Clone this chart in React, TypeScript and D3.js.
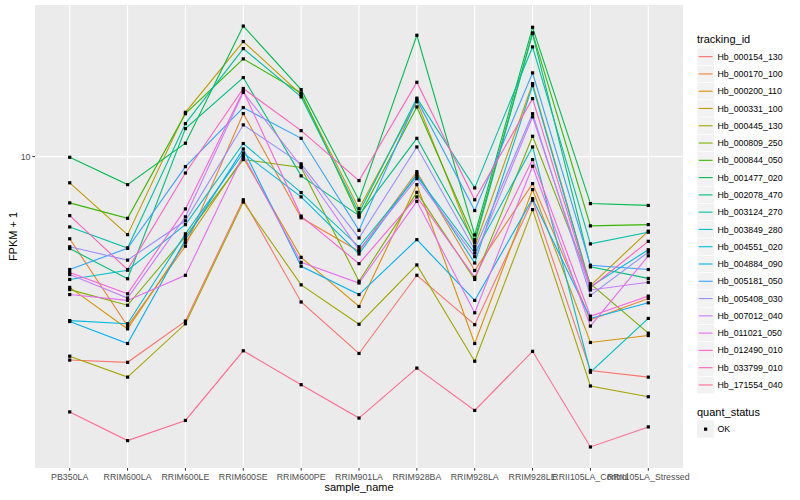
import React, { useRef, useEffect } from "react";
import * as d3 from "d3";

// x categories
const samples = [
  "PB350LA", "RRIM600LA", "RRIM600LE", "RRIM600SE", "RRIM600PE", "RRIM901LA",
  "RRIM928BA", "RRIM928LA", "RRIM928LE", "RRII105LA_Control", "RRII105LA_Stressed",
];

// FPKM + 1 per tracking id, one value per sample (same order as samples)
const hb_000154_130 = [3.10, 3.06, 3.88, 7.80, 4.33, 3.22, 5.05, 3.80, 7.78, 2.92, 2.81];
const hb_000170_100 = [6.23, 3.77, 5.97, 12.81, 7.03, 5.80, 9.17, 5.19, 8.56, 3.91, 4.42];
const hb_000200_110 = [4.71, 3.71, 6.09, 9.94, 5.60, 4.22, 8.51, 3.41, 8.27, 3.43, 3.57];
const hb_000331_100 = [8.60, 6.38, 12.90, 19.39, 14.29, 7.41, 13.72, 5.96, 15.22, 4.76, 6.51];
const hb_000445_130 = [3.17, 2.81, 3.82, 7.70, 4.78, 3.81, 5.36, 3.08, 7.37, 2.67, 2.51];
const hb_000809_250 = [4.65, 4.25, 6.31, 9.83, 9.39, 4.88, 8.14, 4.93, 11.24, 4.81, 3.62];
const hb_000844_050 = [7.66, 7.01, 12.8, 17.55, 14.43, 7.06, 13.31, 6.20, 20.38, 6.71, 6.76];
const hb_001477_020 = [9.96, 8.51, 10.8, 21.2, 14.7, 7.78, 20.1, 6.37, 21.05, 7.63, 7.55];
const hb_002078_470 = [5.89, 4.95, 11.75, 15.76, 8.95, 7.12, 11.11, 6.09, 20.30, 5.30, 4.96];
const hb_003124_270 = [6.67, 5.91, 12.09, 18.62, 14.10, 7.24, 14.0, 8.35, 18.80, 6.05, 6.47];
const hb_003849_280 = [4.93, 5.2, 6.76, 10.78, 8.13, 5.95, 8.93, 5.74, 10.57, 2.89, 3.94];
const hb_004551_020 = [3.89, 3.82, 6.41, 10.21, 7.93, 5.71, 9.05, 5.42, 15.05, 4.73, 5.85];
const hb_004884_090 = [3.87, 3.41, 6.20, 10.45, 5.32, 4.52, 6.20, 4.37, 7.85, 3.94, 4.31];
const hb_005181_050 = [5.22, 5.9, 9.44, 13.26, 11.11, 6.54, 13.88, 7.33, 16.19, 5.35, 5.22];
const hb_005408_030 = [5.95, 5.51, 6.91, 12.00, 9.59, 6.26, 10.57, 5.85, 12.8, 4.50, 5.77];
const hb_007012_040 = [5.07, 4.43, 7.07, 14.48, 9.46, 5.85, 8.81, 5.62, 12.57, 4.64, 4.85];
const hb_011021_050 = [4.52, 4.37, 5.05, 10.08, 5.44, 4.83, 7.73, 4.07, 9.46, 3.77, 5.65];
const hb_012490_010 = [5.13, 4.54, 7.40, 14.58, 7.1, 5.40, 7.93, 4.99, 9.83, 3.99, 4.48];
const hb_033799_010 = [7.12, 5.22, 9.10, 14.8, 11.61, 8.71, 15.34, 7.80, 13.96, 4.70, 6.14];
const hb_171554_040 = [2.30, 1.95, 2.19, 3.27, 2.69, 2.22, 2.96, 2.32, 3.26, 1.88, 2.11];

const trackingIds = [
  "Hb_000154_130", "Hb_000170_100", "Hb_000200_110", "Hb_000331_100", "Hb_000445_130",
  "Hb_000809_250", "Hb_000844_050", "Hb_001477_020", "Hb_002078_470", "Hb_003124_270",
  "Hb_003849_280", "Hb_004551_020", "Hb_004884_090", "Hb_005181_050", "Hb_005408_030",
  "Hb_007012_040", "Hb_011021_050", "Hb_012490_010", "Hb_033799_010", "Hb_171554_040",
];

const seriesValues = [
  hb_000154_130, hb_000170_100, hb_000200_110, hb_000331_100, hb_000445_130,
  hb_000809_250, hb_000844_050, hb_001477_020, hb_002078_470, hb_003124_270,
  hb_003849_280, hb_004551_020, hb_004884_090, hb_005181_050, hb_005408_030,
  hb_007012_040, hb_011021_050, hb_012490_010, hb_033799_010, hb_171554_040,
];

// ggplot default hue palette for 20 groups
const palette = [
  "#F8766D", "#EA8331", "#D89000", "#C09B00", "#A3A500", "#7CAE00", "#39B600",
  "#00BB4E", "#00BF7D", "#00C1A3", "#00BFC4", "#00BAE0", "#00B0F6", "#35A2FF",
  "#9590FF", "#C77CFF", "#E76BF3", "#FA62DB", "#FF62BC", "#FF6C91",
];

const yTicks = [10];

type Pt = { sample: string; value: number };

export default function App() {
  const svgRef = useRef<SVGSVGElement>(null);

  useEffect(() => {
    if (!svgRef.current) return;
    const svg = d3.select(svgRef.current);
    svg.selectAll("*").remove();

    const font = "'Liberation Sans', Arial, Helvetica, sans-serif";
    const panel = { left: 35, top: 5, right: 683, bottom: 468 };

    const x = d3.scalePoint<string>()
      .domain(samples)
      .range([panel.left, panel.right])
      .padding(0.6);

    // log scale, ggplot style 5% expansion on the log range
    const all = seriesValues.flat();
    const [lo, hi] = d3.extent(all.map(v => Math.log10(v))) as [number, number];
    const pad = (hi - lo) * 0.05;
    const y = d3.scaleLog()
      .domain([Math.pow(10, lo - pad), Math.pow(10, hi + pad)])
      .range([panel.bottom, panel.top]);

    // panel background
    svg.append("rect")
      .attr("x", panel.left)
      .attr("y", panel.top)
      .attr("width", panel.right - panel.left)
      .attr("height", panel.bottom - panel.top)
      .attr("fill", "#EBEBEB");

    // grid
    svg.append("g")
      .selectAll("line")
      .data(yTicks)
      .join("line")
      .attr("x1", panel.left)
      .attr("x2", panel.right)
      .attr("y1", d => y(d))
      .attr("y2", d => y(d))
      .attr("stroke", "#fff")
      .attr("stroke-width", 1.1);

    svg.append("g")
      .selectAll("line")
      .data(samples)
      .join("line")
      .attr("x1", d => x(d)!)
      .attr("x2", d => x(d)!)
      .attr("y1", panel.top)
      .attr("y2", panel.bottom)
      .attr("stroke", "#fff")
      .attr("stroke-width", 1.1);

    // lines
    const line = d3.line<Pt>()
      .x(d => x(d.sample)!)
      .y(d => y(d.value));

    const series = seriesValues.map((vals, i) => ({
      id: trackingIds[i],
      color: palette[i],
      points: vals.map((v, j) => ({ sample: samples[j], value: v })),
    }));

    svg.append("g")
      .selectAll("path")
      .data(series)
      .join("path")
      .attr("d", d => line(d.points))
      .attr("fill", "none")
      .attr("stroke", d => d.color)
      .attr("stroke-width", 1.1);

    // points (square, black)
    const pts = series.flatMap(s => s.points);
    svg.append("g")
      .selectAll("rect")
      .data(pts)
      .join("rect")
      .attr("x", d => x(d.sample)! - 1.6)
      .attr("y", d => y(d.value) - 1.6)
      .attr("width", 3.2)
      .attr("height", 3.2)
      .attr("fill", "#000");

    // y axis
    const yAxis = svg.append("g");
    yAxis.selectAll("line")
      .data(yTicks)
      .join("line")
      .attr("x1", panel.left - 2.7)
      .attr("x2", panel.left)
      .attr("y1", d => y(d))
      .attr("y2", d => y(d))
      .attr("stroke", "#333");
    yAxis.selectAll("text")
      .data(yTicks)
      .join("text")
      .attr("x", panel.left - 4.5)
      .attr("y", d => y(d))
      .attr("dy", "0.35em")
      .attr("text-anchor", "end")
      .style("font-family", font)
      .style("font-size", "8.8px")
      .style("fill", "#4D4D4D")
      .text(d => `${d}`);

    // x axis
    const xAxis = svg.append("g");
    xAxis.selectAll("line")
      .data(samples)
      .join("line")
      .attr("x1", d => x(d)!)
      .attr("x2", d => x(d)!)
      .attr("y1", panel.bottom)
      .attr("y2", panel.bottom + 2.7)
      .attr("stroke", "#333");
    xAxis.selectAll("text")
      .data(samples)
      .join("text")
      .attr("x", d => x(d)!)
      .attr("y", panel.bottom + 12)
      .attr("text-anchor", "middle")
      .style("font-family", font)
      .style("font-size", "8.8px")
      .style("fill", "#4D4D4D")
      .text(d => d);

    // axis titles
    svg.append("text")
      .attr("x", (panel.left + panel.right) / 2)
      .attr("y", 491)
      .attr("text-anchor", "middle")
      .style("font-family", font)
      .style("font-size", "11px")
      .style("fill", "#000")
      .text("sample_name");

    svg.append("text")
      .attr("transform", `translate(17,${(panel.top + panel.bottom) / 2}) rotate(-90)`)
      .attr("text-anchor", "middle")
      .style("font-family", font)
      .style("font-size", "11px")
      .style("fill", "#000")
      .text("FPKM + 1");

    // legend: tracking_id
    const lx = 697;
    const keyH = 17.28;
    const legend = svg.append("g");
    legend.append("text")
      .attr("x", lx)
      .attr("y", 43)
      .style("font-family", font)
      .style("font-size", "11px")
      .text("tracking_id");

    const keys = legend.selectAll("g.key")
      .data(series)
      .join("g")
      .attr("class", "key")
      .attr("transform", (_, i) => `translate(${lx},${48 + i * keyH})`);
    keys.append("rect")
      .attr("width", 17.28)
      .attr("height", keyH)
      .attr("fill", "#F2F2F2")
      .attr("stroke", "#fff")
      .attr("stroke-width", 0.6);
    keys.append("line")
      .attr("x1", 1.7)
      .attr("x2", 15.6)
      .attr("y1", keyH / 2)
      .attr("y2", keyH / 2)
      .attr("stroke", d => d.color)
      .attr("stroke-width", 1.1);
    keys.append("text")
      .attr("x", 20.5)
      .attr("y", keyH / 2)
      .attr("dy", "0.35em")
      .style("font-family", font)
      .style("font-size", "8.8px")
      .text(d => d.id);

    // legend: quant_status
    legend.append("text")
      .attr("x", lx)
      .attr("y", 416)
      .style("font-family", font)
      .style("font-size", "11px")
      .text("quant_status");
    const ok = legend.append("g").attr("transform", `translate(${lx},420.5)`);
    ok.append("rect")
      .attr("width", 17.28)
      .attr("height", keyH)
      .attr("fill", "#F2F2F2");
    ok.append("rect")
      .attr("x", 17.28 / 2 - 1.6)
      .attr("y", keyH / 2 - 1.6)
      .attr("width", 3.2)
      .attr("height", 3.2)
      .attr("fill", "#000");
    ok.append("text")
      .attr("x", 20.5)
      .attr("y", keyH / 2)
      .attr("dy", "0.35em")
      .style("font-family", font)
      .style("font-size", "8.8px")
      .text("OK");
  }, []);

  return (
    <div style={{ position: "fixed", left: 0, top: 0, width: 800, height: 500, background: "#fff" }}>
      <svg ref={svgRef} width={800} height={500} />
    </div>
  );
}
